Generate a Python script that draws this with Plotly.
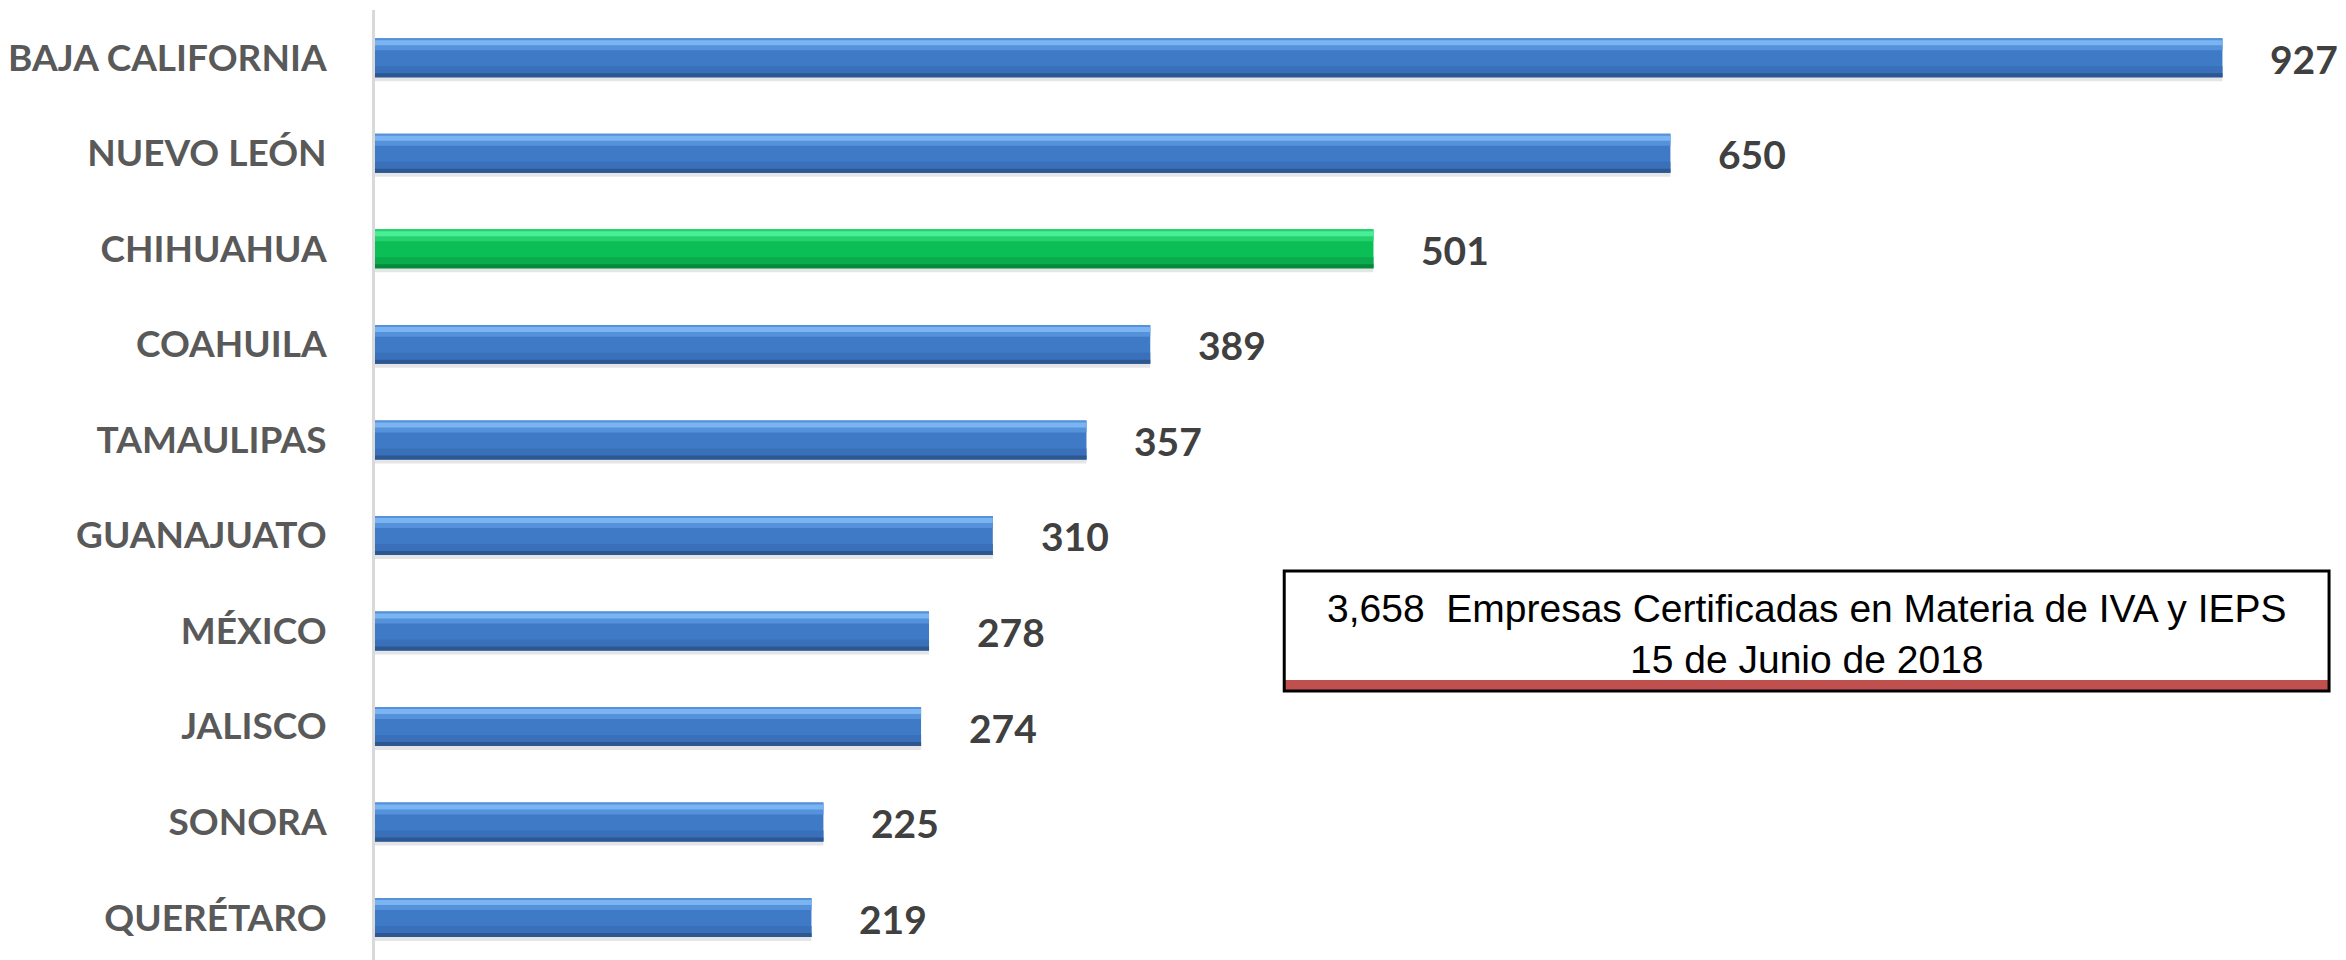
import plotly.graph_objects as go

states = ["BAJA CALIFORNIA", "NUEVO LEÓN", "CHIHUAHUA", "COAHUILA", "TAMAULIPAS",
          "GUANAJUATO", "MÉXICO", "JALISCO", "SONORA", "QUERÉTARO"]
companies = [927, 650, 501, 389, 357, 310, 278, 274, 225, 219]
highlight = "CHIHUAHUA"
box_line1 = "3,658  Empresas Certificadas en Materia de IVA y IEPS"
box_line2 = "15 de Junio de 2018"

BLUE = dict(base="#3e7ac5", top="#5592db", band="#7ab5f2", lower="#3970b9", bottom="#2c5790")
GREEN = dict(base="#0cbe56", top="#27d06f", band="#4aee97", lower="#0aab4c", bottom="#07883c")

def pal(key):
    return [(GREEN if s == highlight else BLUE)[key] for s in states]

PX = 1 / 95.56          # one pixel in category units
H = 39 * PX             # bar thickness
TOP = -H / 2

# (start px from bar top, thickness px, colour key)
layers = [(0, 39, "base"), (0, 12, "top"), (2, 5, "band"), (28, 11, "lower"), (35, 4, "bottom")]

fig = go.Figure()
# soft drop shadow
fig.add_trace(go.Bar(x=companies, y=states, orientation="h", width=4 * PX, offset=TOP + 39 * PX,
                     marker=dict(color="rgba(0,0,0,0.10)", line=dict(width=0)), hoverinfo="skip"))
for start, thick, key in layers:
    fig.add_trace(go.Bar(x=companies, y=states, orientation="h", width=thick * PX,
                         offset=TOP + start * PX,
                         marker=dict(color=pal(key), line=dict(width=0)),
                         hoverinfo="skip" if key != "base" else None))

for s, v in zip(states, companies):
    fig.add_annotation(x=v, y=s, xref="x", yref="y", text=str(v), showarrow=False,
                       xanchor="left", xshift=46, yshift=-1,
                       font=dict(family="Lato", size=39, color="#404040", weight="bold"))

# info box (pixel geometry converted to paper fractions of the plot area)
L, T, PW, PH = 369, 10, 1977, 950
def px_x(p):
    return (p - L) / PW
def px_y(p):
    return 1 - (p - T) / PH

fig.add_shape(type="rect", xref="paper", yref="paper", x0=px_x(1281), x1=px_x(2329),
              y0=px_y(690), y1=px_y(680), fillcolor="#c0504d", line=dict(width=0))
fig.add_shape(type="rect", xref="paper", yref="paper", x0=px_x(1281), x1=px_x(2329),
              y0=px_y(691), y1=px_y(571), fillcolor="rgba(0,0,0,0)",
              line=dict(color="#000000", width=3))
fig.add_annotation(xref="paper", yref="paper", x=px_x(1805), y=px_y(634),
                   text=box_line1 + "<br>" + box_line2, showarrow=False, align="center",
                   xanchor="center", yanchor="middle",
                   font=dict(family="Liberation Sans", size=39, color="#000000"))

# page body has an 8px margin: shrink figure and margins accordingly
fig.update_layout(
    width=2338, height=952,
    margin=dict(l=L - 8, r=0, t=T - 8, b=0),
    plot_bgcolor="white", paper_bgcolor="white",
    barmode="overlay", showlegend=False,
    xaxis=dict(range=[0, 989], visible=False, showgrid=False, zeroline=False),
    yaxis=dict(range=[9.444, -0.5], type="category", categoryorder="array", categoryarray=states,
               showgrid=False, zeroline=False, showline=True, linecolor="#d9d9d9", linewidth=3,
               ticks="", ticklabelstandoff=38,
               tickfont=dict(family="Lato", size=37, color="#595959", weight="bold")),
)

fig.write_html("out.html")
